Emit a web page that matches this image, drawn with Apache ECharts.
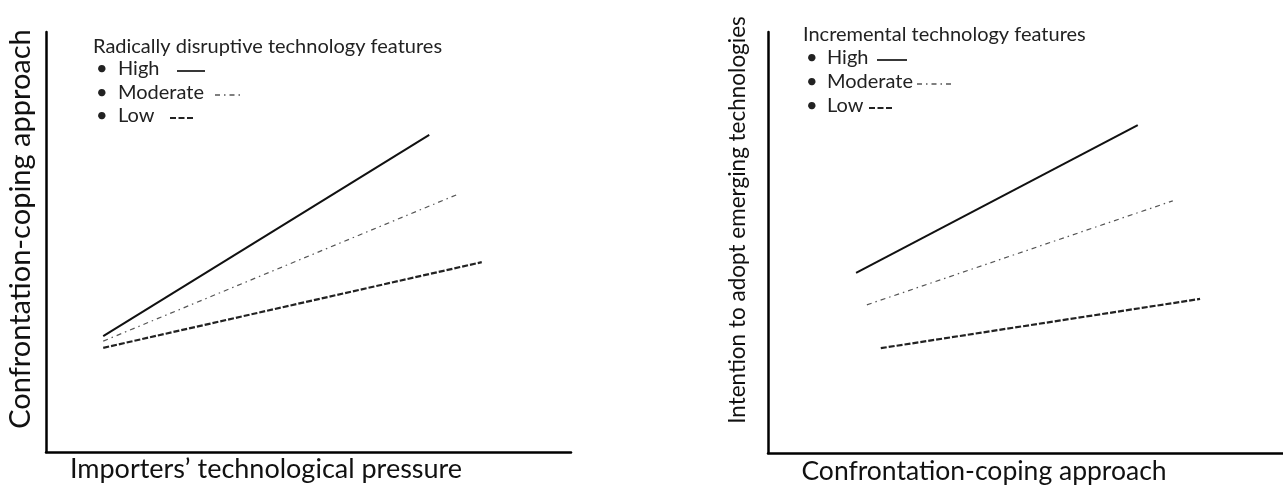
<!DOCTYPE html>
<html>
<head>
<meta charset="utf-8">
<script src="https://cdn.jsdelivr.net/npm/echarts@6/dist/echarts.min.js"></script>
<style>html,body{margin:0;padding:0;background:#fff}#c{width:1283px;height:485px}</style>
</head>
<body>
<div id="c"></div>
<script>
// ---- data (arbitrary 0-100 scale) ----
const seriesNames = ['High', 'Moderate', 'Low'];
const leftHigh = [[10.9, 27.6], [73.0, 75.5]];
const leftModerate = [[10.9, 26.4], [78.5, 61.4]];
const leftLow = [[10.9, 24.8], [83.0, 45.2]];
const rightHigh = [[17.1, 42.8], [71.8, 77.9]];
const rightModerate = [[19.2, 35.2], [78.6, 59.9]];
const rightLow = [[21.9, 24.9], [83.9, 36.6]];
const leftLegendTitle = 'Radically disruptive technology features';
const rightLegendTitle = 'Incremental technology features';
const leftXTitle = 'Importers’ technological pressure';
const leftYTitle = 'Confrontation-coping approach';
const rightXTitle = 'Confrontation-coping approach';
const rightYTitle = 'Intention to adopt emerging technologies';

const FONT = 'Lato, "Open Sans", sans-serif';
const styles = {
  High: { type: 'solid', width: 2, color: '#111' },
  Moderate: { type: [5, 4, 1.5, 4], width: 1.2, color: '#555' },
  Low: { type: [6, 2], width: 2.2, color: '#222' }
};

function axis(i) {
  return {
    type: 'value', min: 0, max: 100, gridIndex: i,
    axisLine: { show: true, onZero: false, lineStyle: { color: '#000', width: 2.5 } },
    axisTick: { show: false }, axisLabel: { show: false }, splitLine: { show: false }
  };
}
function line(name, data, i) {
  return {
    name: name, type: 'line', data: data, xAxisIndex: i, yAxisIndex: i,
    symbol: 'none', silent: true, animation: false,
    lineStyle: styles[name]
  };
}
function legend(x0, yTitle, rows, title, fs, textX, marks) {
  const els = [{ type: 'text', style: { text: title, x: x0, y: yTitle, font: fs + 'px ' + FONT, fill: '#222', verticalAlign: 'middle' } }];
  seriesNames.forEach((n, k) => {
    els.push({ type: 'text', style: { text: '•', x: x0 + 3, y: rows[k], font: fs + 'px ' + FONT, fill: '#222', verticalAlign: 'middle' } });
    els.push({ type: 'text', style: { text: n, x: textX, y: rows[k], font: fs + 'px ' + FONT, fill: '#222', verticalAlign: 'middle' } });
    const m = marks[k];
    els.push({ type: 'line', shape: { x1: m[0], y1: rows[k] + 2, x2: m[1], y2: rows[k] + 2 },
      style: { stroke: n === 'Moderate' ? '#555' : '#222', lineWidth: n === 'Moderate' ? 1.3 : 1.8, lineDash: n === 'High' ? null : (n === 'Moderate' ? [5, 4, 1.5, 4] : [6, 2.5]) } });
  });
  return els;
}

const chart = echarts.init(document.getElementById('c'));
chart.setOption({
  backgroundColor: '#fff',
  grid: [
    { left: 46, top: 32, width: 525, height: 420 },
    { left: 768, top: 32, width: 515, height: 421 }
  ],
  xAxis: [axis(0), axis(1)],
  yAxis: [axis(0), axis(1)],
  series: [
    line('High', leftHigh, 0), line('Moderate', leftModerate, 0), line('Low', leftLow, 0),
    line('High', rightHigh, 1), line('Moderate', rightModerate, 1), line('Low', rightLow, 1)
  ],
  graphic: [].concat(
    legend(93, 47, [69, 93, 116], leftLegendTitle, 20, 118, [[177, 205], [215, 242], [170, 195]]),
    legend(803, 35, [58, 82, 106], rightLegendTitle, 20, 827, [[877, 907], [917, 953], [869, 894]]),
    [
      { type: 'text', style: { text: leftXTitle, x: 266, y: 469, font: '27px ' + FONT, fill: '#111', align: 'center', verticalAlign: 'middle' } },
      { type: 'text', style: { text: rightXTitle, x: 984, y: 471, font: '26.5px ' + FONT, fill: '#111', align: 'center', verticalAlign: 'middle' } },
      { type: 'text', x: 21, y: 229, rotation: Math.PI / 2, style: { text: leftYTitle, x: 0, y: 0, font: '29px ' + FONT, fill: '#111', align: 'center', verticalAlign: 'middle' } },
      { type: 'text', x: 738, y: 220, rotation: Math.PI / 2, style: { text: rightYTitle, x: 0, y: 0, font: '22.5px ' + FONT, fill: '#111', align: 'center', verticalAlign: 'middle' } }
    ]
  )
});
</script>
</body>
</html>
